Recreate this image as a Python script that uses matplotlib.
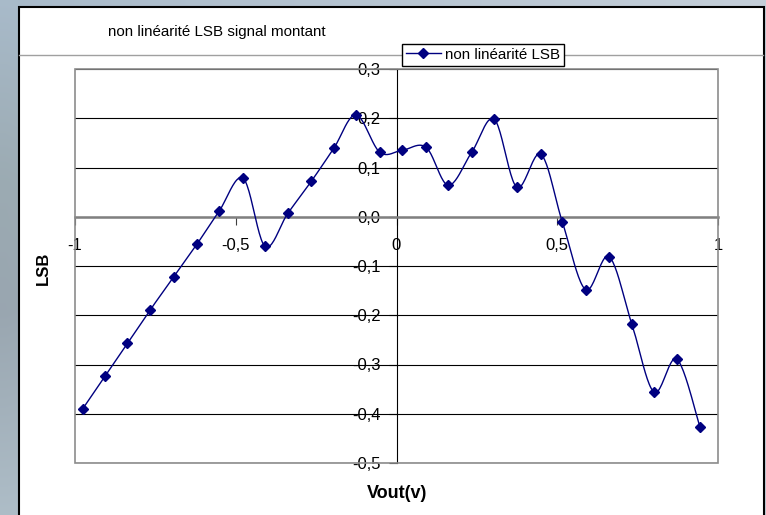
import numpy as np
import matplotlib
matplotlib.use("Agg")
import matplotlib.pyplot as plt
from matplotlib.patches import Rectangle
from matplotlib.lines import Line2D

plt.rcParams['font.family'] = ['Liberation Sans', 'DejaVu Sans']

# Measured non-linearity (LSB) against output voltage, rising signal
vout = [-0.976, -0.907, -0.837, -0.767, -0.693, -0.621, -0.552, -0.477,
        -0.409, -0.338, -0.265, -0.195, -0.126, -0.052, 0.018, 0.092,
        0.161, 0.234, 0.304, 0.374, 0.449, 0.516, 0.588, 0.661,
        0.732, 0.801, 0.872, 0.944]
lsb = [-0.390, -0.324, -0.257, -0.190, -0.122, -0.056, 0.011, 0.078,
       -0.060, 0.007, 0.072, 0.139, 0.207, 0.131, 0.135, 0.141,
       0.064, 0.131, 0.198, 0.060, 0.127, -0.011, -0.148, -0.081,
       -0.218, -0.356, -0.289, -0.427]

x_ticks = [-1, -0.5, 0, 0.5, 1]
x_tick_labels = ["-1", "-0,5", "0", "0,5", "1"]
y_ticks = [-0.5, -0.4, -0.3, -0.2, -0.1, 0.0, 0.1, 0.2, 0.3]
y_tick_labels = ["-0,5", "-0,4", "-0,3", "-0,2", "-0,1", "0,0", "0,1", "0,2", "0,3"]

title = "non linéarité LSB signal montant"
series_name = "non linéarité LSB"
x_title = "Vout(v)"
y_title = "LSB"

NAVY = "#000080"
W, H = 766, 515


def smooth_curve(x, y, n=24):
    """Bezier smoothing through every point (Catmull-Rom control points)."""
    p = np.column_stack([x, y])
    ext = np.vstack([p[0], p, p[-1]])
    t = np.linspace(0, 1, n)[:, None]
    parts = []
    for i in range(len(p) - 1):
        p0, p1, p2, p3 = ext[i], ext[i + 1], ext[i + 2], ext[i + 3]
        c1 = p1 + (p2 - p0) / 6.0
        c2 = p2 - (p3 - p1) / 6.0
        b = ((1 - t) ** 3) * p1 + 3 * ((1 - t) ** 2) * t * c1 \
            + 3 * (1 - t) * (t ** 2) * c2 + (t ** 3) * p2
        parts.append(b if i == 0 else b[1:])
    return np.vstack(parts)


fig = plt.figure(figsize=(W / 100, H / 100), dpi=100)

# Slide background and white chart area (pixel coordinates)
bg = fig.add_axes([0, 0, 1, 1])
bg.set_xlim(0, W)
bg.set_ylim(H, 0)
bg.set_axis_off()

ny, nx = 64, 64
yy = np.linspace(0, 1, ny)[:, None]
xx = np.linspace(0, 1, nx)[None, :]
keys_y = [0.0, 0.35, 0.6, 1.0]
keys_c = np.array([[0.66, 0.73, 0.79],
                   [0.61, 0.67, 0.70],
                   [0.60, 0.65, 0.69],
                   [0.68, 0.74, 0.78]])
left_col = np.stack([np.interp(yy[:, 0], keys_y, keys_c[:, k]) for k in range(3)], axis=1)
right_col = np.array([0.77, 0.81, 0.85])
img = left_col[:, None, :] * (1 - xx[..., None]) + right_col[None, None, :] * xx[..., None]
bg.imshow(img, extent=(0, W, H, 0), aspect='auto', interpolation='bilinear', zorder=0)

bg.add_patch(Rectangle((18.5, 7), 763.5 - 18.5, H + 10, facecolor='white',
                       edgecolor='black', linewidth=1.5, zorder=1))
bg.plot([19, 763], [55, 55], color='#a0a0a0', linewidth=1.0, zorder=2)

bg.text(108, 32, title, fontsize=10.9, ha='left', va='center', zorder=3)
bg.text(397, 493, x_title, fontsize=13, fontweight='bold', ha='center', va='center', zorder=3)
bg.text(43, 268, y_title, fontsize=12, fontweight='bold', rotation=90,
        ha='center', va='center', zorder=3)

# Plot area
ax = fig.add_axes([75 / W, (H - 463) / H, (718 - 75) / W, (463 - 69) / H])
ax.set_facecolor('none')
ax.set_xlim(-1, 1)
ax.set_ylim(-0.5, 0.3)

ax.spines['top'].set_visible(False)
ax.spines['right'].set_visible(False)
ax.spines['left'].set_position(('data', 0))
ax.spines['bottom'].set_position(('data', 0))
ax.spines['left'].set_color('black')
ax.spines['left'].set_linewidth(0.8)
ax.spines['bottom'].set_color('#808080')
ax.spines['bottom'].set_linewidth(1.8)
ax.add_patch(Rectangle((0, 0), 1, 1, transform=ax.transAxes, fill=False,
                       edgecolor='#8c8c8c', linewidth=1.2, zorder=2.6, clip_on=False))

ax.set_xticks(x_ticks)
ax.set_xticklabels(x_tick_labels)
ax.set_yticks(y_ticks)
ax.set_yticklabels(y_tick_labels)
ax.yaxis.grid(True, color='black', linewidth=0.8)
ax.tick_params(axis='y', direction='out', length=6, width=0.8, color='black',
               pad=5.5, labelsize=12)
ax.tick_params(axis='x', direction='out', length=6, width=0.8, color='#404040',
               pad=9, labelsize=12)

curve = smooth_curve(vout, lsb)
ax.plot(curve[:, 0], curve[:, 1], color=NAVY, linewidth=1.0, zorder=4)
ax.plot(vout, lsb, linestyle='none', marker='D', markersize=4.8,
        color=NAVY, zorder=5)

handle = Line2D([], [], color=NAVY, linewidth=1.0, marker='D', markersize=4.8)
leg = fig.legend(handles=[handle], labels=[series_name], loc='upper left',
                 bbox_to_anchor=(402 / W, 1 - 44 / H), borderaxespad=0,
                 frameon=True, fancybox=False, edgecolor='black', framealpha=1,
                 borderpad=0.25, handlelength=2.3, handletextpad=0.3,
                 fontsize=10.9)
leg.get_frame().set_linewidth(1.0)

fig.savefig("out.png", dpi=100)
